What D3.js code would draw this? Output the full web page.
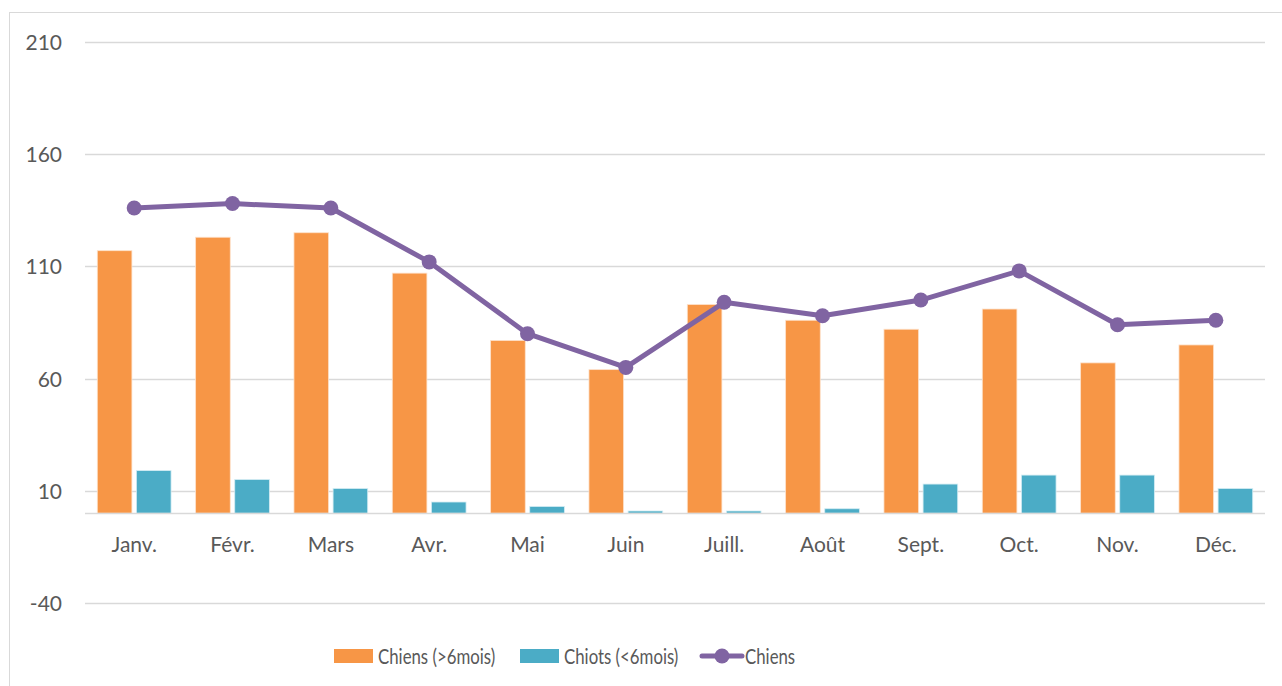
<!DOCTYPE html>
<html>
<head>
<meta charset="utf-8">
<script src="https://cdn.jsdelivr.net/npm/d3@7"></script>
<style>
  html, body { margin: 0; padding: 0; background: #fff; }
  svg text { font-family: Lato, "Open Sans", sans-serif; fill: #595959; }
</style>
</head>
<body>
<div id="chart"></div>
<script>
const months = ['Janv.', 'Févr.', 'Mars', 'Avr.', 'Mai', 'Juin', 'Juill.', 'Août', 'Sept.', 'Oct.', 'Nov.', 'Déc.'];
const adultDogs = [117, 123, 125, 107, 77, 64, 93, 86, 82, 91, 67, 75];
const puppies = [19, 15, 11, 5, 3, 1, 1, 2, 13, 17, 17, 11];
const totalDogs = [136, 138, 136, 112, 80, 65, 94, 88, 95, 108, 84, 86];
const yTicks = [-40, 10, 60, 110, 160, 210];

const seriesNames = ['Chiens (>6mois)', 'Chiots (<6mois)', 'Chiens'];
const colors = { adult: '#F79646', puppy: '#4BACC6', total: '#8064A2' };

const width = 1282;
const height = 686;
const plot = { left: 85, right: 1265, top: 42, bottom: 603 };

const svg = d3.select('#chart').append('svg')
  .attr('width', width)
  .attr('height', height);

// chart frame
svg.append('rect')
  .attr('x', 9.5).attr('y', 12.5)
  .attr('width', 1290).attr('height', 700)
  .attr('fill', 'none')
  .attr('stroke', '#d9d9d9');

const x = d3.scaleBand()
  .domain(months)
  .range([plot.left, plot.right])
  .paddingInner(0.25)
  .paddingOuter(0.125);

const xCat = d3.scaleBand()
  .domain(months)
  .range([plot.left, plot.right]);

const xSub = d3.scaleBand()
  .domain(['adult', 'puppy'])
  .range([0, x.bandwidth()])
  .paddingInner(0.115);

const y = d3.scaleLinear()
  .domain([-40, 210])
  .range([plot.bottom, plot.top]);

// gridlines
svg.append('g')
  .selectAll('line')
  .data(yTicks)
  .join('line')
  .attr('x1', plot.left)
  .attr('x2', plot.right)
  .attr('y1', (d) => Math.round(y(d)) + 0.5)
  .attr('y2', (d) => Math.round(y(d)) + 0.5)
  .attr('stroke', '#d9d9d9')
  .attr('stroke-width', 1.5);

// y axis labels
const yAxis = svg.append('g')
  .attr('transform', `translate(${plot.left - 23},0)`)
  .call(d3.axisLeft(y).tickValues(yTicks).tickFormat((d) => String(d)).tickSize(0).tickPadding(0));
yAxis.select('.domain').remove();
yAxis.selectAll('text')
  .attr('font-size', 21)
  .attr('text-anchor', 'end')
  .attr('dy', '0.36em')
  .style('font-family', 'Lato, sans-serif')
  .attr('fill', '#595959');

// bars
const groups = svg.append('g')
  .selectAll('g')
  .data(months)
  .join('g')
  .attr('transform', (d) => `translate(${x(d)},0)`);

groups.append('rect')
  .attr('x', xSub('adult'))
  .attr('width', xSub.bandwidth())
  .attr('y', (d, i) => y(adultDogs[i]))
  .attr('height', (d, i) => y(0) - y(adultDogs[i]))
  .attr('fill', colors.adult)
  .attr('stroke', '#fde2cc')
  .attr('stroke-width', 0.8);

groups.append('rect')
  .attr('x', xSub('puppy'))
  .attr('width', xSub.bandwidth())
  .attr('y', (d, i) => y(puppies[i]))
  .attr('height', (d, i) => Math.max(0, y(0) - y(puppies[i])))
  .attr('fill', colors.puppy)
  .attr('stroke', '#d2ecf3')
  .attr('stroke-width', 0.8);

// zero axis line
svg.append('line')
  .attr('x1', plot.left)
  .attr('x2', plot.right)
  .attr('y1', Math.round(y(0)) + 0.5)
  .attr('y2', Math.round(y(0)) + 0.5)
  .attr('stroke', '#d9d9d9')
  .attr('stroke-width', 1.5);

// x labels
const xAxis = svg.append('g')
  .attr('transform', `translate(0,${y(0) + 31})`)
  .call(d3.axisBottom(xCat).tickSize(0).tickPadding(0));
xAxis.select('.domain').remove();
xAxis.selectAll('text')
  .attr('font-size', 21)
  .attr('dy', '0.36em')
  .attr('y', 0)
  .style('font-family', 'Lato, sans-serif')
  .attr('fill', '#595959');

// total line
const cx = (d) => xCat(d) + xCat.bandwidth() / 2;
const line = d3.line()
  .x((d) => cx(d))
  .y((d, i) => y(totalDogs[i]));

svg.append('path')
  .datum(months)
  .attr('d', line)
  .attr('fill', 'none')
  .attr('stroke', colors.total)
  .attr('stroke-width', 5)
  .attr('stroke-linejoin', 'round');

svg.append('g')
  .selectAll('circle')
  .data(months)
  .join('circle')
  .attr('cx', cx)
  .attr('cy', (d, i) => y(totalDogs[i]))
  .attr('r', 7.5)
  .attr('fill', colors.total);

// legend
const legend = svg.append('g').attr('transform', 'translate(0,656)');
const legendItems = [
  { name: seriesNames[0], type: 'bar', color: colors.adult, x: 334 },
  { name: seriesNames[1], type: 'bar', color: colors.puppy, x: 520 },
  { name: seriesNames[2], type: 'line', color: colors.total, x: 701 }
];

legendItems.forEach((item) => {
  const g = legend.append('g').attr('transform', `translate(${item.x},0)`);
  if (item.type === 'bar') {
    g.append('rect')
      .attr('x', 0).attr('y', -7)
      .attr('width', 39).attr('height', 14)
      .attr('fill', item.color);
  } else {
    g.append('line')
      .attr('x1', 1).attr('x2', 41)
      .attr('y1', 0).attr('y2', 0)
      .attr('stroke', item.color)
      .attr('stroke-width', 5)
      .attr('stroke-linecap', 'round');
    g.append('circle')
      .attr('cx', 21).attr('cy', 0).attr('r', 7.5)
      .attr('fill', item.color);
  }
  const text = g.append('text')
    .attr('x', 44)
    .attr('dy', '0.36em')
    .attr('font-size', 21)
    .text(item.name);
  // the legend labels are set narrower than the axis labels
  const len = text.node().getComputedTextLength();
  text.attr('textLength', len * 0.8).attr('lengthAdjust', 'spacingAndGlyphs');
});
</script>
</body>
</html>
